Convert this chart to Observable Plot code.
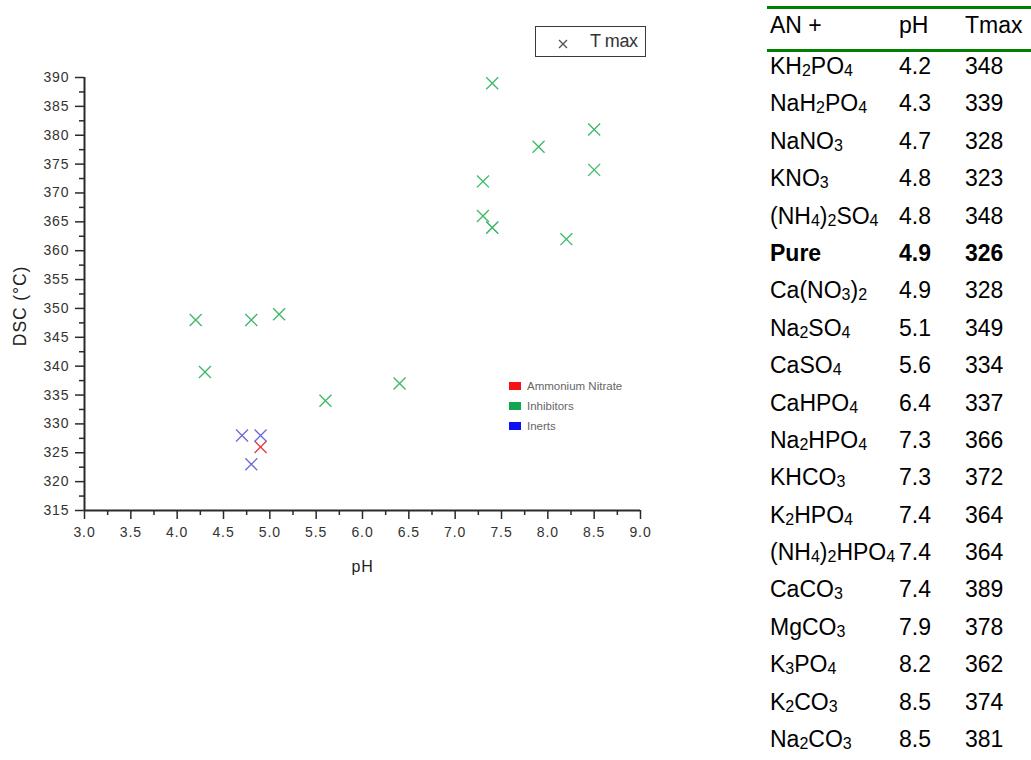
<!DOCTYPE html>
<html>
<head>
<meta charset="utf-8">
<script src="https://cdn.jsdelivr.net/npm/d3@7"></script>
<script src="https://cdn.jsdelivr.net/npm/@observablehq/plot@0.6"></script>
<style>
  html, body { margin: 0; padding: 0; background: #fff; width: 1031px; height: 760px; overflow: hidden; }
  body { position: relative; font-family: "Liberation Sans", Arial, sans-serif; }
  #chart { position: absolute; left: 0; top: 0; }
  .chart text { letter-spacing: 0.9px; }
  #tlegend { position: absolute; left: 535px; top: 26px; width: 109px; height: 29px; border: 1.5px solid #3a3a3a; }
  #tlegend svg { position: absolute; left: 0; top: 0; }
  #tlegend span { position: absolute; left: 54px; top: 4px; font-size: 18px; color: #333; letter-spacing: -0.4px; }
  #glegend { position: absolute; left: 509px; top: 379px; font-size: 11.5px; color: #666; }
  #glegend .row { height: 20px; line-height: 14px; position: relative; }
  #glegend .sw { position: absolute; left: 0; top: 3px; width: 12px; height: 8px; }
  #glegend .lb { position: absolute; left: 18px; top: 0; white-space: nowrap; }
  #table { position: absolute; left: 767px; top: 6px; width: 264px; font-size: 23px; color: #000; }
  #table .head { border-top: 3px solid #008000; border-bottom: 3px solid #008000; height: 32px; line-height: 32px; padding-bottom: 8px; display: grid; grid-template-columns: 132px 66px 66px; }
  #table .row { height: 28px; line-height: 28px; padding-bottom: 9.4px; display: grid; grid-template-columns: 132px 66px 66px; white-space: nowrap; }
  #table .c0 { padding-left: 3px; }
  #table sub { font-size: 16px; vertical-align: -2px; line-height: 0; }
  #table .bold { font-weight: bold; }
</style>
</head>
<body>
<div id="chart"></div>
<div id="tlegend"></div>
<div id="glegend"></div>
<div id="table"></div>
<script>
// ---- data ----
const compounds = ["KH<sub>2</sub>PO<sub>4</sub>", "NaH<sub>2</sub>PO<sub>4</sub>", "NaNO<sub>3</sub>", "KNO<sub>3</sub>",
  "(NH<sub>4</sub>)<sub>2</sub>SO<sub>4</sub>", "Pure", "Ca(NO<sub>3</sub>)<sub>2</sub>", "Na<sub>2</sub>SO<sub>4</sub>",
  "CaSO<sub>4</sub>", "CaHPO<sub>4</sub>", "Na<sub>2</sub>HPO<sub>4</sub>", "KHCO<sub>3</sub>", "K<sub>2</sub>HPO<sub>4</sub>",
  "(NH<sub>4</sub>)<sub>2</sub>HPO<sub>4</sub>", "CaCO<sub>3</sub>", "MgCO<sub>3</sub>", "K<sub>3</sub>PO<sub>4</sub>",
  "K<sub>2</sub>CO<sub>3</sub>", "Na<sub>2</sub>CO<sub>3</sub>"];
const phValues = [4.2, 4.3, 4.7, 4.8, 4.8, 4.9, 4.9, 5.1, 5.6, 6.4, 7.3, 7.3, 7.4, 7.4, 7.4, 7.9, 8.2, 8.5, 8.5];
const tmaxValues = [348, 339, 328, 323, 348, 326, 328, 349, 334, 337, 366, 372, 364, 364, 389, 378, 362, 374, 381];
const groups = ["Inhibitors", "Inhibitors", "Inerts", "Inerts", "Inhibitors", "Ammonium Nitrate", "Inerts", "Inhibitors",
  "Inhibitors", "Inhibitors", "Inhibitors", "Inhibitors", "Inhibitors", "Inhibitors", "Inhibitors", "Inhibitors",
  "Inhibitors", "Inhibitors", "Inhibitors"];
const groupNames = ["Ammonium Nitrate", "Inhibitors", "Inerts"];
const markerColors = ["#e33b3b", "#3cb868", "#6a6ad8"];
const swatchColors = ["#f41414", "#12a650", "#1010f4"];
const tableHeader = ["AN +", "pH", "Tmax"];
const xDomain = [3, 9];
const yDomain = [315, 390];
const xMajor = [3.0, 3.5, 4.0, 4.5, 5.0, 5.5, 6.0, 6.5, 7.0, 7.5, 8.0, 8.5, 9.0];
const xMinor = [3.25, 3.75, 4.25, 4.75, 5.25, 5.75, 6.25, 6.75, 7.25, 7.75, 8.25, 8.75];
const yMajor = [315, 320, 325, 330, 335, 340, 345, 350, 355, 360, 365, 370, 375, 380, 385, 390];
const yMinor = [317.5, 322.5, 327.5, 332.5, 337.5, 342.5, 347.5, 352.5, 357.5, 362.5, 367.5, 372.5, 377.5, 382.5, 387.5];
const xLabel = "pH";
const yLabel = "DSC (°C)";
const seriesLabel = "T max";

const rows = compounds.map((name, i) => ({name, ph: phValues[i], tmax: tmaxValues[i], group: groups[i]}));

// ---- chart ----
const axisColor = "#2a2a2a";
const chart = Plot.plot({
  width: 700,
  height: 600,
  marginLeft: 84,
  marginRight: 60,
  marginTop: 77,
  marginBottom: 90,
  className: "chart",
  style: {fontFamily: "'Liberation Sans', Arial, sans-serif", background: "transparent", overflow: "visible"},
  x: {domain: xDomain, label: null},
  y: {domain: yDomain, label: null},
  color: {domain: groupNames, range: markerColors},
  marks: [
    Plot.axisY(yMinor, {tickSize: 5, tickFormat: () => "", stroke: axisColor, strokeWidth: 1.5, label: null}),
    Plot.axisY(yMajor, {tickSize: 9, tickPadding: 6, tickFormat: "d", fontSize: 14, fill: "#333", stroke: axisColor, strokeWidth: 1.5, label: null}),
    Plot.axisX(xMinor, {tickSize: 5, tickFormat: () => "", stroke: axisColor, strokeWidth: 1.5, label: null}),
    Plot.axisX(xMajor, {tickSize: 9, tickPadding: 8, tickFormat: ".1f", fontSize: 14, fill: "#333", stroke: axisColor, strokeWidth: 1.5, label: null}),
    Plot.ruleX([xDomain[0]], {stroke: axisColor, strokeWidth: 2}),
    Plot.ruleY([yDomain[0]], {stroke: axisColor, strokeWidth: 2}),
    Plot.dot(rows, {x: "ph", y: "tmax", stroke: "group", symbol: "times", r: 5.5, strokeWidth: 1.3}),
    Plot.text([xLabel], {frameAnchor: "bottom", dy: 61, fontSize: 16, fill: "#222"}),
    Plot.text([yLabel], {frameAnchor: "left", textAnchor: "middle", dx: -64, dy: 12, rotate: -90, fontSize: 17.5, fill: "#222"})
  ]
});
document.getElementById("chart").appendChild(chart);

// ---- series legend ----
const tl = document.getElementById("tlegend");
tl.innerHTML = `<svg width="50" height="29"><path d="M23,13L31,21M31,13L23,21" stroke="#555" stroke-width="1.4" fill="none"/></svg><span>${seriesLabel}</span>`;

// ---- group legend ----
const gl = document.getElementById("glegend");
groupNames.forEach((g, i) => {
  const r = document.createElement("div");
  r.className = "row";
  r.innerHTML = `<div class="sw" style="background:${swatchColors[i]}"></div><div class="lb">${g}</div>`;
  gl.appendChild(r);
});

// ---- table ----
const tb = document.getElementById("table");
const h = document.createElement("div");
h.className = "head";
h.innerHTML = tableHeader.map((t, j) => `<div class="c${j}">${t}</div>`).join("");
tb.appendChild(h);
rows.forEach(d => {
  const r = document.createElement("div");
  r.className = "row" + (d.group === "Ammonium Nitrate" ? " bold" : "");
  r.innerHTML = `<div class="c0">${d.name}</div><div class="c1">${d.ph.toFixed(1)}</div><div class="c2">${d.tmax}</div>`;
  tb.appendChild(r);
});
</script>
</body>
</html>
